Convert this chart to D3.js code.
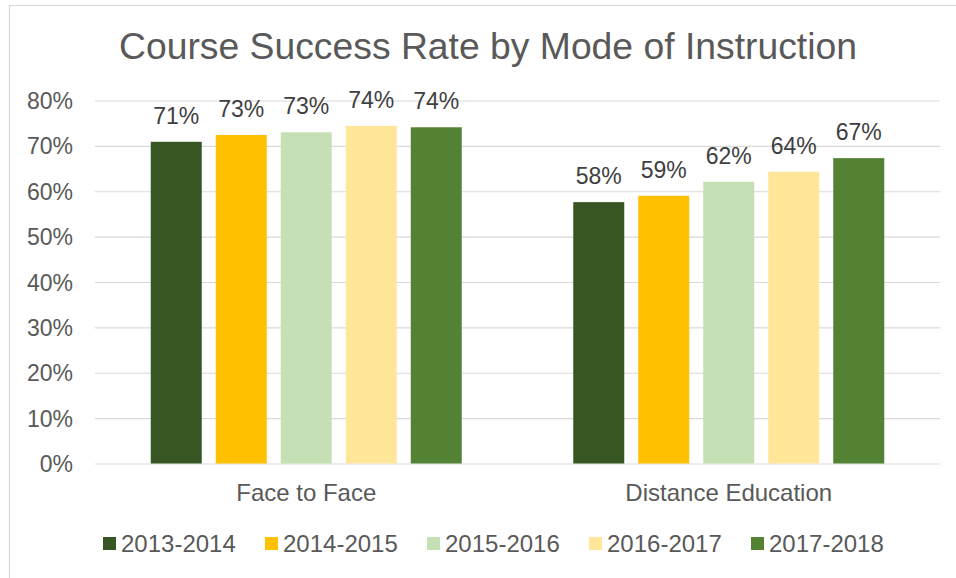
<!DOCTYPE html>
<html>
<head>
<meta charset="utf-8">
<script src="https://cdn.jsdelivr.net/npm/d3@7/dist/d3.min.js"></script>
<style>
	body { margin: 0; background: #fff; }
	text { font-family: Arial, "Liberation Sans", sans-serif; }
</style>
</head>
<body>
<div id="chart"></div>
<script>
// chart data
var categories = ["Face to Face", "Distance Education"];
var years = ["2013-2014", "2014-2015", "2015-2016", "2016-2017", "2017-2018"];
var faceToFace = [0.709, 0.724, 0.730, 0.744, 0.741];
var distanceEd = [0.576, 0.590, 0.621, 0.643, 0.673];
var dataLabels = [["71%", "73%", "73%", "74%", "74%"], ["58%", "59%", "62%", "64%", "67%"]];
var yTicks = [0, 0.1, 0.2, 0.3, 0.4, 0.5, 0.6, 0.7, 0.8];
var colors = ["#375623", "#FFC000", "#C5E0B4", "#FFE699", "#548235"];

var width = 956,
	height = 578,
	margins = {"top": 100.5, "bottom": 114.5, "left": 95, "right": 16};

var values = [faceToFace, distanceEd];

var svg = d3.select("#chart")
	.append("svg")
	.attr("width", width)
	.attr("height", height)

// outer chart border (runs off the bottom/right like the source)
svg.append("rect")
	.attr("x", 9.5)
	.attr("y", 5.5)
	.attr("width", width)
	.attr("height", height)
	.style("fill", "none")
	.style("stroke", "#d9d9d9")
	.style("stroke-width", 1.2)

svg.append("text")
	.text("Course Success Rate by Mode of Instruction")
	.attr("x", 488)
	.attr("y", 59)
	.style("text-anchor", "middle")
	.style("font-size", "37.3px")
	.style("fill", "#595959")

var yScale = d3.scaleLinear()
	.domain([0, 0.8])
	.range([height - margins.bottom, margins.top])

var xScale = d3.scaleBand()
	.domain(categories)
	.range([margins.left, width - margins.right])

var barStep = 65, barWidth = 51;
var inner = d3.scaleBand()
	.domain(years)
	.range([-barStep * years.length / 2, barStep * years.length / 2])

// gridlines + tick labels
var yAxis = d3.axisLeft()
	.scale(yScale)
	.tickValues(yTicks)
	.tickSizeInner(-(width - margins.left - margins.right))
	.tickSizeOuter(0)
	.tickPadding(22)
	.tickFormat(d3.format(".0%"))

var yLabel = svg.append("g")
	.attr("class", "yAxis")
	.attr("transform", "translate(" + margins.left + ",0)")
	.call(yAxis)

yLabel.select(".domain").remove()
yLabel.selectAll("line")
	.style("stroke", "#d9d9d9")
	.style("stroke-width", 1.2)
yLabel.selectAll("text")
	.style("font-size", "23px")
	.style("fill", "#595959")
	.attr("dy", "0.35em")

// bars
var groups = svg.selectAll("g.category")
	.data(categories)
	.enter()
	.append("g")
	.attr("class", "category")
	.attr("transform", function(d) {
		return "translate(" + (xScale(d) + xScale.bandwidth() / 2) + ",0)"
	})

groups.selectAll("rect")
	.data(function(d, i) {
		return years.map(function(y, j) { return {year: y, value: values[i][j], label: dataLabels[i][j], idx: j}; })
	})
	.enter()
	.append("rect")
	.attr("x", function(d) { return inner(d.year) + (barStep - barWidth) / 2 })
	.attr("width", barWidth)
	.attr("y", function(d) { return yScale(d.value) })
	.attr("height", function(d) { return yScale(0) - yScale(d.value) })
	.style("fill", function(d) { return colors[d.idx] })

groups.selectAll("text.dataLabel")
	.data(function(d, i) {
		return years.map(function(y, j) { return {year: y, value: values[i][j], label: dataLabels[i][j]}; })
	})
	.enter()
	.append("text")
	.attr("class", "dataLabel")
	.text(function(d) { return d.label })
	.attr("x", function(d) { return inner(d.year) + barStep / 2 })
	.attr("y", function(d) { return yScale(d.value) - 18 })
	.style("text-anchor", "middle")
	.style("font-size", "23px")
	.style("fill", "#404040")

// category axis labels
var xAxis = d3.axisBottom()
	.scale(xScale)
	.tickSize(0)
	.tickPadding(20)

var xLabel = svg.append("g")
	.attr("class", "xAxis")
	.attr("transform", "translate(0," + (height - margins.bottom) + ")")
	.call(xAxis)

xLabel.select(".domain").remove()
xLabel.selectAll("text")
	.style("font-size", "24px")
	.style("fill", "#595959")

// legend
var legend = svg.selectAll("g.legend")
	.data(years)
	.enter()
	.append("g")
	.attr("class", "legend")
	.attr("transform", function(d, i) { return "translate(" + (103 + i * 162) + ",537)" })

legend.append("rect")
	.attr("width", 13)
	.attr("height", 13)
	.style("fill", function(d, i) { return colors[i] })

legend.append("text")
	.text(function(d) { return d })
	.attr("x", 18)
	.attr("y", 15.3)
	.style("font-size", "24px")
	.style("fill", "#595959")
</script>
</body>
</html>
